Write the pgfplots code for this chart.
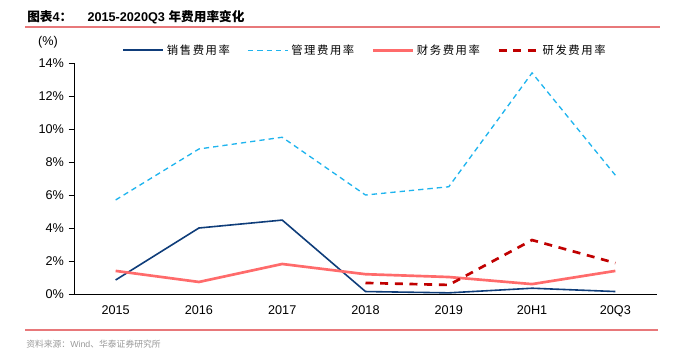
\documentclass[border=0pt]{standalone}
\usepackage{fontspec}
\setmainfont{Liberation Sans}
\newfontfamily\cjk{Noto Sans CJK SC}
\newfontfamily\cjkl[LetterSpace=14]{Noto Sans CJK SC}
\usepackage{pgfplots}
\pgfplotsset{compat=1.18}
\definecolor{xs}{HTML}{0F3D7A}
\definecolor{gl}{HTML}{1FB4EE}
\definecolor{cw}{HTML}{FF6B6B}
\definecolor{yf}{HTML}{C00000}
\definecolor{rl}{HTML}{E8787A}
\begin{document}
\begin{tikzpicture}
\path (0pt,0pt) rectangle (505.5pt,266.25pt);
% title
\node[anchor=west,inner sep=0] at (20.25pt,253.5pt) {\fontsize{9.5}{11}\selectfont\bfseries{\cjk 图表}4{\cjk ：}\hspace{1.2em}2015-2020Q3 {\cjk 年费用率变化}};
\draw[rl,line width=0.9pt] (18.75pt,246pt) -- (495pt,246pt);
% footer
\draw[rl,line width=0.9pt] (18.75pt,18.75pt) -- (493.5pt,18.75pt);
\node[anchor=west,inner sep=0,text=gray!80] at (19.5pt,8.25pt) {\fontsize{6.6}{8}\selectfont{\cjk 资料来源：}Wind{\cjk 、华泰证券研究所}};
\node[inner sep=0] at (36pt,234.75pt) {\fontsize{9.5}{11}\selectfont(\%)};
\begin{axis}[
  at={(55.5pt,45.75pt)}, anchor=south west,
  scale only axis, width=437.25pt, height=173.25pt,
  xmin=-0.5, xmax=6.5, ymin=0, ymax=14,
  axis x line*=bottom, axis y line*=left,
  axis line style={line width=0.6pt,-},
  xtick={0,...,6},
  xticklabels={2015,2016,2017,2018,2019,20H1,20Q3},
  major x tick style={draw=none},
  extra x ticks={0.5,1.5,2.5,3.5,4.5,5.5},
  extra x tick labels={},
  extra x tick style={major tick length=4pt, tick style={black,line width=0.5pt}, tick align=outside},
  ytick={0,2,...,14},
  yticklabel={\pgfmathprintnumber{\tick}\%},
  tick align=outside, major tick length=4pt,
  tick style={black,line width=0.5pt},
  /pgf/number format/assume math mode=true,
  tick label style={font=\fontsize{9.5}{11}\selectfont},
  xticklabel style={yshift=-1pt},
  legend columns=4,
  legend style={draw=none, fill=none, at={(0.5,1)}, anchor=south, yshift=1pt,
    font=\fontsize{8.5}{10}\selectfont\cjkl, /tikz/every even column/.append style={column sep=11pt}},
  legend cell align=left,
  legend image code/.code={\draw[#1] (0pt,0pt) -- (30pt,0pt);},
]
\addplot[xs, line width=1.2pt] coordinates {(0,0.85) (1,4.0) (2,4.48) (3,0.15) (4,0.07) (5,0.35) (6,0.15)};
\addlegendentry{销售费用率}
\addplot[gl, line width=1pt, dash pattern=on 4pt off 3pt] coordinates {(0,5.7) (1,8.79) (2,9.5) (3,6.0) (4,6.5) (5,13.4) (6,7.2)};
\addlegendentry{管理费用率}
\addplot[cw, line width=2pt] coordinates {(0,1.4) (1,0.73) (2,1.82) (3,1.2) (4,1.03) (5,0.6) (6,1.4)};
\addlegendentry{财务费用率}
\addplot[yf, line width=2pt, dash pattern=on 6pt off 5pt] coordinates {(3,0.67) (4,0.55) (5,3.27) (6,1.88)};
\addlegendentry{研发费用率}
\end{axis}
\end{tikzpicture}
\end{document}
